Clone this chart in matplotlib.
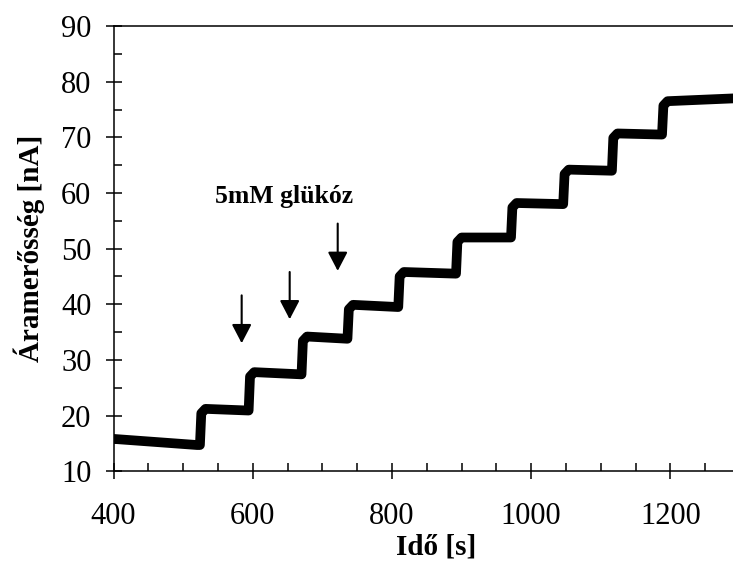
import matplotlib.pyplot as plt
from matplotlib.ticker import MultipleLocator

# baseline before the first addition
base_t = [400, 520]
base_i = [15.8, 14.7]

# glucose additions: time of each step and current at start / end of each plateau
step_t = [524, 594, 670, 736, 809, 892, 971, 1046, 1116, 1188]
level_start = [21.2, 27.8, 34.2, 39.9, 45.8, 52.0, 58.2, 64.2, 70.7, 76.5]
level_end = [20.9, 27.4, 33.8, 39.5, 45.5, 52.0, 58.0, 64.0, 70.5, 77.0]
t_end = 1290

# arrows marking additions
arrow_t = [584, 653, 722]
arrow_top = [41.6, 45.8, 54.5]
arrow_tip = [33.0, 37.3, 46.0]

xs = list(base_t)
ys = list(base_i)
ends = step_t[1:] + [t_end]
prev = base_i[-1]
for t, a, b, nt in zip(step_t, level_start, level_end, ends):
    xs += [t, t + 2, t + 8, nt]
    ys += [prev, a - 0.8, a, b]
    prev = b

plt.rcParams['font.family'] = ['Liberation Serif', 'DejaVu Serif']

fig = plt.figure(figsize=(7.33, 5.67), dpi=100)
ax = fig.add_axes([0.155, 0.169, 0.845, 0.785])

ax.plot(xs, ys, color='black', lw=7, solid_joinstyle='round', solid_capstyle='round')

for x, top, tip in zip(arrow_t, arrow_top, arrow_tip):
    ax.annotate('', xy=(x, tip), xytext=(x, top),
                arrowprops=dict(arrowstyle='-|>,head_length=1.15,head_width=0.6',
                                color='black', lw=1.5, shrinkA=0, shrinkB=0))

ax.text(645, 59.3, '5mM glükóz', fontsize=18.5, fontweight='bold', ha='center', va='center')

ax.set_xlim(400, t_end)
ax.set_ylim(10, 90)
ax.xaxis.set_major_locator(MultipleLocator(200))
ax.xaxis.set_minor_locator(MultipleLocator(50))
ax.yaxis.set_major_locator(MultipleLocator(10))
ax.yaxis.set_minor_locator(MultipleLocator(5))
ax.tick_params(which='major', direction='inout', length=12, width=1.1, labelsize=22)
ax.tick_params(which='minor', direction='in', length=6, width=1.1)
ax.tick_params(axis='x', which='major', pad=16)
ax.tick_params(axis='y', which='major', pad=10)
ax.spines['right'].set_visible(False)
for s in ['left', 'bottom', 'top']:
    ax.spines[s].set_linewidth(1.1)

ax.set_xlabel('Idő [s]', fontsize=21, fontweight='bold')
ax.set_ylabel('Áramerősség [nA]', fontsize=21, fontweight='bold')
ax.xaxis.set_label_coords(0.52, -0.139)
ax.yaxis.set_label_coords(-0.111, 0.5)

fig.savefig('out.png', dpi=100)
